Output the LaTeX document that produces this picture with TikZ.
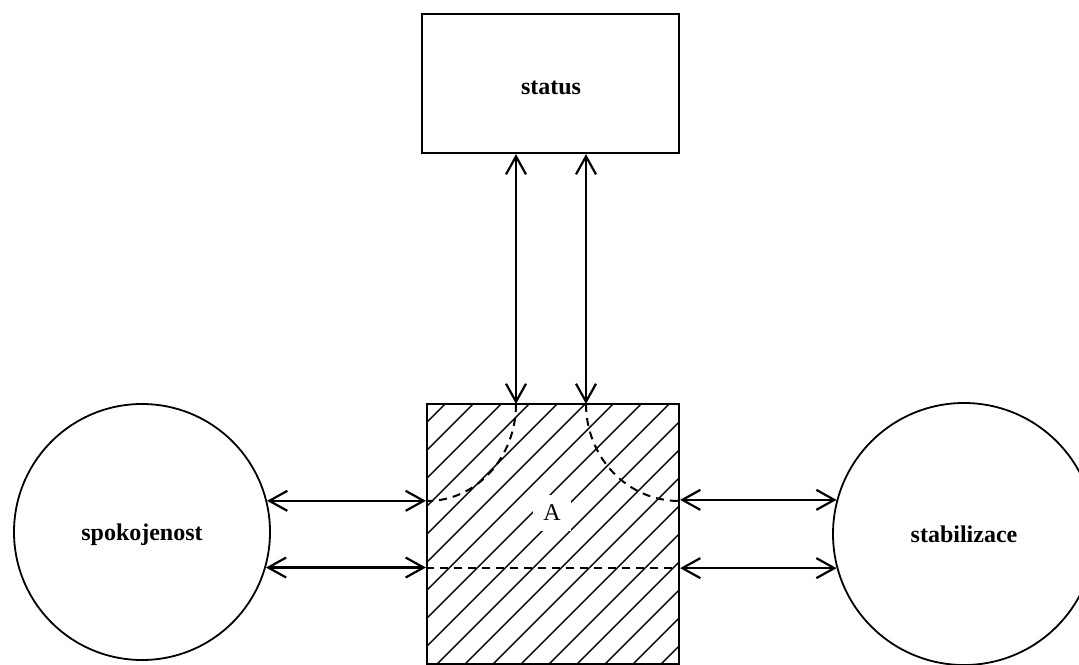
\documentclass[tikz,border=0pt]{standalone}
\usepackage{fontspec}
\setmainfont{Liberation Serif}
\usetikzlibrary{arrows.meta,calc}
\begin{document}
\begin{tikzpicture}[x=0.5pt,y=0.5pt,
  box/.style={draw,line width=1.1pt,inner sep=0pt},
  lbl/.style={font=\fontsize{12}{14}\selectfont\bfseries,inner sep=0pt},
  blob/.style={draw,circle,line width=0.9pt,inner sep=0pt,text depth=0pt,font=\fontsize{12}{14}\selectfont\bfseries},
  link/.style={line width=1.1pt,{Straight Barb[length=9pt,width=10pt]}-{Straight Barb[length=9pt,width=10pt]}},
  hatchline/.style={line width=0.7pt},
  dashline/.style={line width=1pt,dash pattern=on 4pt off 3pt}
]
\useasboundingbox (0,0) rectangle (1079,664);
% top box
\node[box,minimum width=128.5pt,minimum height=69.5pt] (st) at (550.5,580.5) {};
\node[lbl] (stl) at (551,576) {status};
% hatching of the central square
\begin{scope}
  \clip (427,0) rectangle (679,260);
  \foreach \d in {185,213,...,661} \draw[hatchline] (\d-10,-10) -- (\d+290,290);
\end{scope}
\node[box,minimum width=126pt,minimum height=130pt] (sq) at (553,130) {};
\node[fill=white,inner sep=5pt,font=\fontsize{12}{14}\selectfont] (A) at (552,151) {A};
% circles
\node[blob,minimum size=128pt] (L) at (142,132) {spokojenost};
\node[blob,minimum size=131pt] (R) at (964,130) {stabilizace};
% attach points on the square
\coordinate (t1) at (516,260);
\coordinate (t2) at (586,260);
% vertical arrows
\draw[link] (t1 |- st.south) -- (t1);
\draw[link] (t2 |- st.south) -- (t2);
% left arrows
\draw[link] (L.14) -- (L.14 -| sq.west);
\draw[link] (L.-16) -- (L.-16 -| sq.west);
% right arrows
\draw[link] (sq.east |- R.165) -- (R.165);
\draw[link] (sq.east |- R.195) -- (R.195);
% dashed lines inside the square
\draw[dashline] (t1) arc[start angle=0,end angle=-90,x radius=44.5pt,y radius=48.5pt];
\draw[dashline] (t2) arc[start angle=180,end angle=270,x radius=46.5pt,y radius=48.5pt];
\draw[dashline] (sq.west |- L.-16) -- (sq.east |- L.-16);
\end{tikzpicture}
\end{document}
